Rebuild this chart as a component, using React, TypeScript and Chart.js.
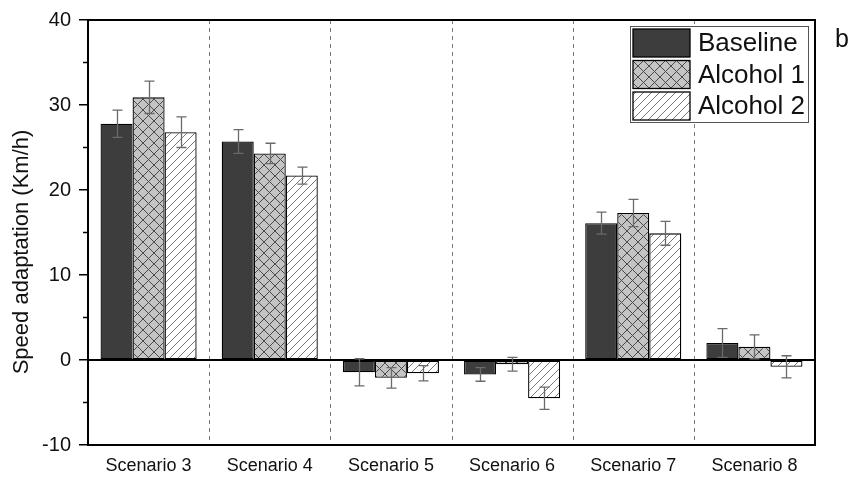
import React, { useEffect, useRef } from "react";
import { Chart, registerables } from "chart.js";

Chart.register(...registerables);

const categories = ["Scenario 3", "Scenario 4", "Scenario 5", "Scenario 6", "Scenario 7", "Scenario 8"];
const seriesNames = ["Baseline", "Alcohol 1", "Alcohol 2"];
const baseline = [27.8, 25.7, -1.45, -1.7, 16.1, 2.0];
const baselineErr = [1.6, 1.4, 1.6, 0.8, 1.3, 1.7];
const alcohol1 = [30.9, 24.3, -2.1, -0.5, 17.3, 1.55];
const alcohol1Err = [1.9, 1.2, 1.2, 0.8, 1.6, 1.4];
const alcohol2 = [26.8, 21.7, -1.55, -4.5, 14.9, -0.8];
const alcohol2Err = [1.8, 1.0, 0.9, 1.3, 1.4, 1.3];
const yMin = -10;
const yMax = 40;
const yStep = 10;
const yMinorTicks = [-5, 5, 15, 25, 35];
const yTitle = "Speed adaptation (Km/h)";
const panelLabel = "b";

const FONT = "'Liberation Sans', Arial, sans-serif";

function makeCross(): CanvasPattern | string {
  const c = document.createElement("canvas");
  c.width = 11;
  c.height = 11;
  const g = c.getContext("2d");
  if (!g) return "#c4c4c4";
  g.fillStyle = "#c4c4c4";
  g.fillRect(0, 0, 11, 11);
  g.strokeStyle = "#4a4a4a";
  g.lineWidth = 1;
  g.beginPath();
  g.moveTo(-1, -1);
  g.lineTo(12, 12);
  g.moveTo(-1, 12);
  g.lineTo(12, -1);
  g.stroke();
  const p = g.createPattern(c, "repeat");
  return p || "#c4c4c4";
}

function makeDiag(): CanvasPattern | string {
  const c = document.createElement("canvas");
  c.width = 8;
  c.height = 8;
  const g = c.getContext("2d");
  if (!g) return "#ffffff";
  g.fillStyle = "#ffffff";
  g.fillRect(0, 0, 8, 8);
  g.strokeStyle = "#7a7a7a";
  g.lineWidth = 1;
  g.beginPath();
  g.moveTo(-1, 9);
  g.lineTo(9, -1);
  g.moveTo(-1, 1);
  g.lineTo(1, -1);
  g.moveTo(7, 9);
  g.lineTo(9, 7);
  g.stroke();
  const p = g.createPattern(c, "repeat");
  return p || "#ffffff";
}

export default function App() {
  const ref = useRef<HTMLCanvasElement | null>(null);

  useEffect(() => {
    if (!ref.current) return;
    const cross = makeCross();
    const diag = makeDiag();
    const fills = ["#3d3d3d", cross, diag];
    const errs = [baselineErr, alcohol1Err, alcohol2Err];

    const custom = {
      id: "custom",
      beforeDatasetsDraw(chart: any) {
        const ctx = chart.ctx;
        const a = chart.chartArea;
        const xs = chart.scales.x;
        ctx.save();
        ctx.strokeStyle = "#7a7a7a";
        ctx.lineWidth = 1;
        ctx.setLineDash([4, 4]);
        for (let i = 0; i < categories.length - 1; i++) {
          const x = Math.round((xs.getPixelForValue(i) + xs.getPixelForValue(i + 1)) / 2) + 0.5;
          ctx.beginPath();
          ctx.moveTo(x, a.top);
          ctx.lineTo(x, a.bottom);
          ctx.stroke();
        }
        ctx.restore();
      },
      afterDatasetsDraw(chart: any) {
        const ctx = chart.ctx;
        const a = chart.chartArea;
        const ys = chart.scales.y;
        ctx.save();
        // zero line
        const y0 = ys.getPixelForValue(0);
        ctx.strokeStyle = "#000";
        ctx.lineWidth = 2;
        ctx.beginPath();
        ctx.moveTo(a.left, y0);
        ctx.lineTo(a.right, y0);
        ctx.stroke();
        // error bars
        ctx.strokeStyle = "#6a6a6a";
        ctx.lineWidth = 1.3;
        chart.data.datasets.forEach((ds: any, di: number) => {
          const meta = chart.getDatasetMeta(di);
          meta.data.forEach((el: any, i: number) => {
            const v = ds.data[i];
            const e = errs[di][i];
            const x = Math.round(el.x) + 0.5;
            const t = ys.getPixelForValue(v + e);
            const b = ys.getPixelForValue(v - e);
            ctx.beginPath();
            ctx.moveTo(x, t);
            ctx.lineTo(x, b);
            ctx.moveTo(x - 5, t);
            ctx.lineTo(x + 5, t);
            ctx.moveTo(x - 5, b);
            ctx.lineTo(x + 5, b);
            ctx.stroke();
          });
        });
        // frame
        ctx.strokeStyle = "#000";
        ctx.lineWidth = 2;
        ctx.strokeRect(a.left, a.top, a.right - a.left, a.bottom - a.top);
        // minor ticks
        ctx.lineWidth = 1.5;
        yMinorTicks.forEach((v) => {
          const y = ys.getPixelForValue(v);
          ctx.beginPath();
          ctx.moveTo(a.left - 5, y);
          ctx.lineTo(a.left, y);
          ctx.stroke();
        });
        // y title
        ctx.fillStyle = "#111";
        ctx.font = `22px ${FONT}`;
        ctx.textAlign = "center";
        ctx.textBaseline = "middle";
        ctx.translate(22, 252);
        ctx.rotate(-Math.PI / 2);
        ctx.fillText(yTitle, 0, 0);
        ctx.restore();

        // legend
        ctx.save();
        const lx = 630, ly = 26, lw = 178, lh = 96;
        ctx.fillStyle = "#fff";
        ctx.fillRect(lx, ly, lw, lh);
        ctx.strokeStyle = "#555";
        ctx.lineWidth = 1;
        ctx.strokeRect(lx + 0.5, ly + 0.5, lw, lh);
        ctx.font = `26px ${FONT}`;
        ctx.textAlign = "left";
        ctx.textBaseline = "middle";
        seriesNames.forEach((name, i) => {
          const sy = ly + 3 + i * 31.5;
          ctx.fillStyle = fills[i] as any;
          ctx.fillRect(633, sy, 57, 28);
          ctx.strokeStyle = "#000";
          ctx.lineWidth = 1.3;
          ctx.strokeRect(633, sy, 57, 28);
          ctx.fillStyle = "#111";
          ctx.fillText(name, 698, sy + 15);
        });
        ctx.font = `25px ${FONT}`;
        ctx.fillText(panelLabel, 835, 40);
        ctx.restore();
      },
    };

    const chart = new Chart(ref.current, {
      type: "bar",
      data: {
        labels: categories,
        datasets: [
          { label: seriesNames[0], data: baseline, backgroundColor: fills[0] as any },
          { label: seriesNames[1], data: alcohol1, backgroundColor: fills[1] as any },
          { label: seriesNames[2], data: alcohol2, backgroundColor: fills[2] as any },
        ].map((d) => ({
          ...d,
          borderColor: "#000",
          borderWidth: 1.3,
          borderSkipped: false,
          categoryPercentage: 0.793,
          barPercentage: 1.0,
        })),
      },
      options: {
        responsive: false,
        animation: false,
        events: [],
        layout: { padding: { left: 0, right: 37, top: 17, bottom: 0 } },
        plugins: { legend: { display: false }, tooltip: { enabled: false }, title: { display: false } },
        scales: {
          x: {
            grid: { display: false, drawTicks: false },
            border: { display: false },
            ticks: { color: "#111", font: { family: FONT, size: 18 }, padding: 10, maxRotation: 0 },
            afterFit: (s: any) => {
              s.height = 36;
            },
          },
          y: {
            min: yMin,
            max: yMax,
            border: { display: false },
            grid: { drawOnChartArea: false, drawTicks: true, tickLength: 9, color: "#000", lineWidth: 1.5 },
            ticks: { stepSize: yStep, color: "#111", font: { family: FONT, size: 20 }, padding: 8 },
            afterFit: (s: any) => {
              s.width = 88;
            },
          },
        },
      },
      plugins: [custom],
    });
    return () => chart.destroy();
  }, []);

  return (
    <div style={{ position: "absolute", left: 0, top: 0, width: 852, height: 481, background: "#fff" }}>
      <canvas ref={ref} width={852} height={481} style={{ display: "block" }} />
    </div>
  );
}
